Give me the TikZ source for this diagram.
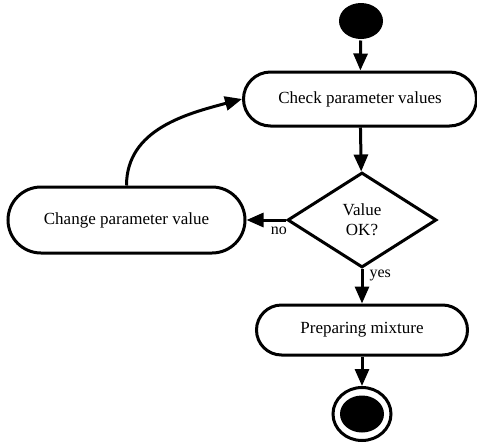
\documentclass[tikz,border=0pt]{standalone}
\usepackage{fontspec}
\setmainfont{Liberation Serif}
\usetikzlibrary{arrows.meta,shapes.geometric,shapes.misc,positioning}
\tikzset{>={Triangle[length=17pt,width=14pt]},
	every path/.style={line width=3pt},
	activity/.style={draw,rounded rectangle,inner sep=0pt,font=\fontsize{17}{20}\selectfont},
	choice/.style={draw,diamond,inner sep=0pt,align=center,font=\fontsize{17}{20}\selectfont},
	initial/.style={ellipse,fill=black,minimum width=44pt,minimum height=36pt,inner sep=0pt}}
\tikzstyle{guard}=[font=\fontsize{16}{18}\selectfont,inner sep=0pt]

\begin{document}
\begin{tikzpicture}[x=1pt,y=-1pt]
	\useasboundingbox (0,0) rectangle (477,445);
	\node[initial] (start) at (361,21) {};
	\node[activity,minimum width=233pt,minimum height=54pt] (check) at (360,99) {Check parameter values};
	\node[choice,minimum width=149pt,minimum height=95pt] (value) at (362,220) {Value\\OK?};
	\node[activity,minimum width=237pt,minimum height=66pt] (change) at (126.5,220) {Change parameter value};
	\node[activity,minimum width=211pt,minimum height=50pt] (mix) at (362,330) {Preparing mixture};
	\node[draw,ellipse,minimum width=58pt,minimum height=53pt,inner sep=0pt] (stop) at (362,414) {};
	\node[initial,minimum height=37pt] (stopdot) at (stop) {};
	
	\draw[->] (start) -- (check);
	\draw[->] (check) -- (value);
	\draw[->] (value.west) -- (change.east)
		node[guard,pos=0.18,below=5pt] {no};
	\draw[->] (value.south) -- (mix.north)
		node[guard,pos=0.2,right=6pt] {yes};
	\draw[->] (mix) -- (stop);
	\draw[->] (change.north) to[out=90,in=195] (check.west);
\end{tikzpicture}
\end{document}
